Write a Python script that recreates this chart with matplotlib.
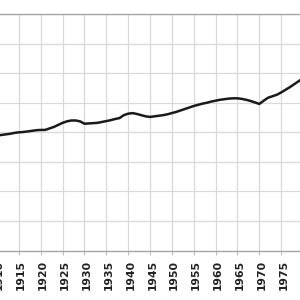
import matplotlib
matplotlib.use('Agg')
from matplotlib import pyplot as plt
from matplotlib import transforms
from matplotlib.ticker import MultipleLocator

years = list(range(1910, 1981))
values = [38.9, 39.1, 39.3, 39.5, 39.8, 40.0, 40.1, 40.3, 40.5, 40.7,
          40.8, 40.8, 41.3, 41.8, 42.5, 43.2, 43.7, 44.0, 44.0, 43.7,
          42.9, 43.0, 43.1, 43.2, 43.5, 43.8, 44.1, 44.5, 44.8, 45.8,
          46.3, 46.5, 46.2, 45.8, 45.4, 45.2, 45.4, 45.6, 45.8, 46.1,
          46.5, 46.9, 47.4, 47.9, 48.4, 48.9, 49.3, 49.7, 50.0, 50.4,
          50.7, 51.0, 51.2, 51.4, 51.5, 51.5, 51.3, 51.0, 50.6, 50.1,
          49.6, 50.7, 51.7, 52.2, 52.7, 53.5, 54.4, 55.3, 56.3, 57.3,
          58.3]
xticks = list(range(1905, 1986, 5))

fig = plt.figure(figsize=(3, 3), dpi=100)
# the plot area is cropped: it runs past the left and right edges of the image
ax = fig.add_axes([-0.0829, 0.165, 1.166, 0.788])
ax.plot(years, values, color='#1a1a1a', lw=1.8, solid_capstyle='round')

ax.set_xlim(1905, 1985)
ax.set_ylim(0, 80)
ax.set_xticks(xticks)
ax.set_xticklabels([str(t) for t in xticks], rotation=90, fontsize=7.8,
                   fontweight='bold', color='#222222')
ax.yaxis.set_major_locator(MultipleLocator(10))
ax.set_yticklabels([])
ax.tick_params(axis='y', length=0)
ax.tick_params(axis='x', length=3, color='#bfbfbf', pad=4)
# labels sit a couple of pixels right of their gridline
# (done after tick_params, which resets the label transforms)
shift = transforms.ScaledTranslation(2.3 / 100, 0, fig.dpi_scale_trans)
for lab in ax.get_xticklabels():
    lab.set_transform(lab.get_transform() + shift)
ax.grid(color='#d9d9d9', lw=0.9)
ax.set_axisbelow(True)
for s in ['left', 'right']:
    ax.spines[s].set_visible(False)
ax.spines['top'].set_color('#a6a6a6')
ax.spines['bottom'].set_color('#a6a6a6')
ax.spines['top'].set_linewidth(1.0)
ax.spines['bottom'].set_linewidth(1.0)

plt.savefig('out.png', dpi=100)
